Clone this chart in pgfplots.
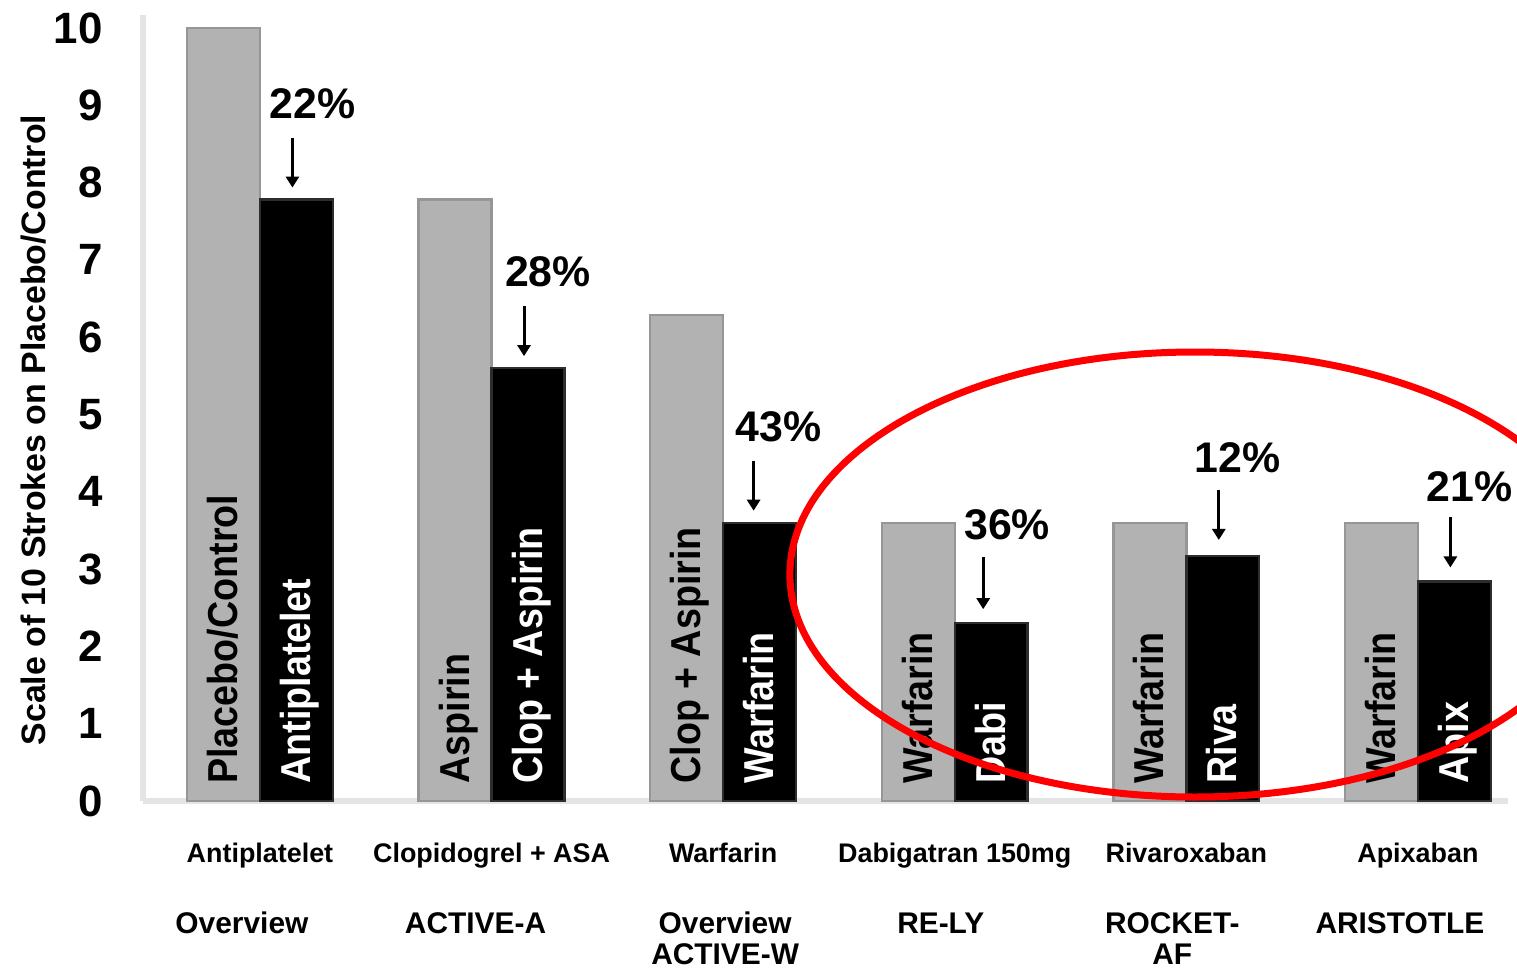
\documentclass[border=0pt]{standalone}
\usepackage{pgfplots}
\pgfplotsset{compat=1.18}
\usepackage{fontspec}
\setmainfont{Liberation Sans}
\newfontfamily\barfont{Liberation Sans}[FakeStretch=0.9]
\usetikzlibrary{arrows.meta}
\definecolor{bargray}{RGB}{178,178,178}
\definecolor{baredge}{RGB}{150,150,150}
\definecolor{blackedge}{RGB}{45,45,45}
\definecolor{axisgray}{RGB}{228,228,228}
\definecolor{ellred}{RGB}{255,0,0}
\tikzset{
  inlab/.style={rotate=90, anchor=base west, inner sep=0pt, font=\barfont\fontsize{21}{21}\selectfont\bfseries},
  pct/.style={anchor=center, inner sep=0pt, font=\fontsize{21.5}{22}\selectfont\bfseries},
  parr/.style={line width=1.5bp, -{Triangle[length=5.5bp,width=6.5bp]}},
  trial/.style={anchor=base, inner sep=0pt, font=\fontsize{15}{15}\selectfont\bfseries},
}
\begin{document}
\begin{tikzpicture}
\begin{axis}[
  at={(71.5bp,85bp)}, anchor=south west,
  scale only axis, width=682.5bp, height=393bp,
  xmin=-0.505, xmax=5.389, ymin=0, ymax=10.168,
  clip=false,
  axis lines*=left,
  axis line style={line width=3bp, color=axisgray},
  major tick length=0pt,
  xtick={0,1,2,3,4,5},
  xticklabels={Antiplatelet, Clopidogrel + ASA, Warfarin, Dabigatran 150mg, Rivaroxaban, Apixaban},
  xticklabel style={font=\fontsize{13.5}{14}\selectfont\bfseries, anchor=base, inner sep=0pt, yshift=-30.5bp},
  ytick={0,1,2,3,4,5,6,7,8,9,10},
  yticklabel style={font=\fontsize{22}{22}\selectfont\bfseries, anchor=east, inner sep=0pt, xshift=-20bp},
  /pgf/number format/assume math mode=true,
  ylabel={Scale of 10 Strokes on Placebo/Control},
  ylabel style={at={(axis description cs:-0.0718,0.472)}, anchor=base, font=\fontsize{17}{17}\selectfont\bfseries},
]
% Placebo / comparator (grey)
\addplot[ybar, bar width=0.315, bar shift=0pt, fill=bargray, draw=baredge, line width=1.2bp]
  coordinates {(-0.1575,10) (0.8425,7.78) (1.8425,6.29) (2.8425,3.60) (3.8425,3.60) (4.8425,3.60)};
% Treatment (black)
\addplot[ybar, bar width=0.315, bar shift=0pt, fill=black, draw=blackedge, line width=1.2bp]
  coordinates {(0.1575,7.78) (1.1575,5.60) (2.1575,3.60) (3.1575,2.30) (4.1575,3.17) (5.1575,2.84)};

% labels inside bars
\node[inlab, text=black] at ([xshift=7bp, yshift=8.5bp]axis cs:-0.1575,0) {Placebo/Control};
\node[inlab, text=black] at ([xshift=7bp, yshift=8.5bp]axis cs:0.8425,0) {Aspirin};
\node[inlab, text=black] at ([xshift=7bp, yshift=8.5bp]axis cs:1.8425,0) {Clop + Aspirin};
\node[inlab, text=black] at ([xshift=7bp, yshift=8.5bp]axis cs:2.8425,0) {Warfarin};
\node[inlab, text=black] at ([xshift=7bp, yshift=8.5bp]axis cs:3.8425,0) {Warfarin};
\node[inlab, text=black] at ([xshift=7bp, yshift=8.5bp]axis cs:4.8425,0) {Warfarin};
\node[inlab, text=white] at ([xshift=7bp, yshift=8.5bp]axis cs:0.1575,0) {Antiplatelet};
\node[inlab, text=white] at ([xshift=7bp, yshift=8.5bp]axis cs:1.1575,0) {Clop + Aspirin};
\node[inlab, text=white] at ([xshift=7bp, yshift=8.5bp]axis cs:2.1575,0) {Warfarin};
\node[inlab, text=white] at ([xshift=7bp, yshift=8.5bp]axis cs:3.1575,0) {Dabi};
\node[inlab, text=white] at ([xshift=7bp, yshift=8.5bp]axis cs:4.1575,0) {Riva};
\node[inlab, text=white] at ([xshift=7bp, yshift=8.5bp]axis cs:5.1575,0) {Apix};

% percentages and arrows
\node[pct] at ([xshift=8bp, yshift=48bp]axis cs:0.1575,7.78) {22\%};
\draw[parr] ([xshift=-2bp, yshift=31bp]axis cs:0.1575,7.78) -- ([xshift=-2bp, yshift=6bp]axis cs:0.1575,7.78);
\node[pct] at ([xshift=10bp, yshift=48bp]axis cs:1.1575,5.60) {28\%};
\draw[parr] ([xshift=-2bp, yshift=31bp]axis cs:1.1575,5.60) -- ([xshift=-2bp, yshift=6bp]axis cs:1.1575,5.60);
\node[pct] at ([xshift=9.5bp, yshift=48bp]axis cs:2.1575,3.60) {43\%};
\draw[parr] ([xshift=-3bp, yshift=31bp]axis cs:2.1575,3.60) -- ([xshift=-3bp, yshift=6bp]axis cs:2.1575,3.60);
\node[pct] at ([xshift=8bp, yshift=49bp]axis cs:3.1575,2.30) {36\%};
\draw[parr] ([xshift=-4bp, yshift=33bp]axis cs:3.1575,2.30) -- ([xshift=-4bp, yshift=7bp]axis cs:3.1575,2.30);
\node[pct] at ([xshift=7.5bp, yshift=49bp]axis cs:4.1575,3.17) {12\%};
\draw[parr] ([xshift=-2bp, yshift=33bp]axis cs:4.1575,3.17) -- ([xshift=-2bp, yshift=8bp]axis cs:4.1575,3.17);
\node[pct] at ([xshift=7.5bp, yshift=47.5bp]axis cs:5.1575,2.84) {21\%};
\draw[parr] ([xshift=-2bp, yshift=32bp]axis cs:5.1575,2.84) -- ([xshift=-2bp, yshift=7bp]axis cs:5.1575,2.84);

% trial names
\node[trial] at ([xshift=-9bp, yshift=-66bp]axis cs:0,0) {Overview};
\node[trial] at ([xshift=-8bp, yshift=-66bp]axis cs:1,0) {ACTIVE-A};
\node[trial] at ([xshift=1bp, yshift=-66bp]axis cs:2,0) {Overview};
\node[trial] at ([xshift=1bp, yshift=-81.5bp]axis cs:2,0) {ACTIVE-W};
\node[trial] at ([xshift=-7bp, yshift=-66bp]axis cs:3,0) {RE-LY};
\node[trial] at ([xshift=-7bp, yshift=-66bp]axis cs:4,0) {ROCKET-};
\node[trial] at ([xshift=-7bp, yshift=-81.5bp]axis cs:4,0) {AF};
\node[trial] at ([xshift=-9bp, yshift=-66bp]axis cs:5,0) {ARISTOTLE};

% red ellipse
\draw[ellred, line width=3.5bp] (axis cs:4.037,2.93) ellipse [x radius=202.5bp, y radius=111.25bp];
\end{axis}
\pgfresetboundingbox
\path[use as bounding box] (0,0) rectangle (758.5bp,485.5bp);
\end{tikzpicture}
\end{document}
